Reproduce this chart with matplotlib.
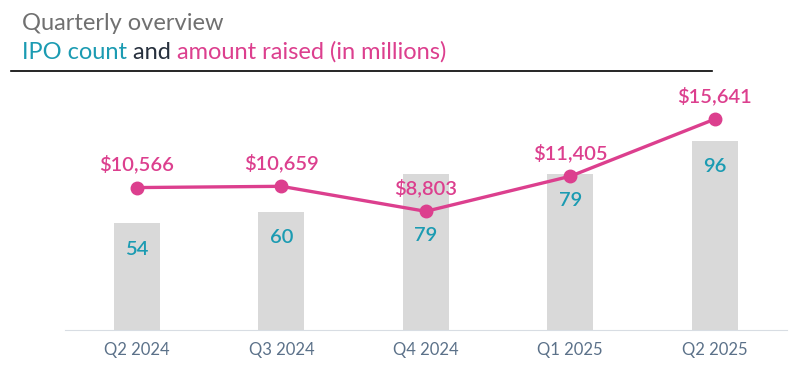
import matplotlib.pyplot as plt
from matplotlib.lines import Line2D

quarters = ["Q2 2024", "Q3 2024", "Q4 2024", "Q1 2025", "Q2 2025"]
ipo_count = [54, 60, 79, 79, 96]
amount_raised = [10566, 10659, 8803, 11405, 15641]

PINK = "#dc3f8e"
TEAL = "#1b9bb2"
GRAY = "#d9d9d9"
TICK = "#5b7189"

plt.rcParams['font.family'] = ['Lato', 'DejaVu Sans']

fig = plt.figure(figsize=(8.08, 3.78), dpi=100)
ax = fig.add_axes([0.080, 0.127, 0.894, 0.608])
x = list(range(len(quarters)))

ax.bar(x, ipo_count, width=0.32, color=GRAY, zorder=1)
ax.set_xlim(-0.5, 4.5)
ax.set_ylim(0, 116.5)

ax2 = ax.twinx()
ax2.plot(x, amount_raised, color=PINK, lw=2.4, marker="o", markersize=9, zorder=3)
ax2.set_ylim(0, 17050)
for xi, v in zip(x, amount_raised):
    ax2.annotate(f"${v:,}", (xi, v), xytext=(0, 17), textcoords="offset points",
                 ha="center", va="center", color=PINK, fontsize=14.5, fontweight="semibold")

# count labels: below the bar top, or below the line point if it sits lower
for xi, c, v in zip(x, ipo_count, amount_raised):
    bar_top = ax.transData.transform((xi, c))[1]
    pt = ax2.transData.transform((xi, v))[1]
    ref_y = min(bar_top, pt + 2)
    y_data = ax.transData.inverted().transform((0, ref_y - 26))[1]
    ax.text(xi, y_data, str(c), ha="center", va="center", color=TEAL,
            fontsize=14.5, fontweight="semibold")

for a in (ax, ax2):
    for s in a.spines.values():
        s.set_visible(False)
    a.set_yticks([])
ax.spines["bottom"].set_visible(True)
ax.spines["bottom"].set_color("#d8dde3")
ax.set_xticks(x)
ax.set_xticklabels(quarters, color=TICK, fontsize=12)
ax.tick_params(axis="x", length=0, pad=9)

# titles
fig.text(0.027, 0.921, "Quarterly overview", color="#707070", fontsize=17, va="baseline")
fig.canvas.draw()
r = fig.canvas.get_renderer()
xpos = 0.027
for txt, col in [("IPO count ", TEAL), ("and ", "#27303d"), ("amount raised (in millions)", PINK)]:
    t = fig.text(xpos, 0.845, txt, color=col, fontsize=17, va="baseline")
    bb = t.get_window_extent(renderer=r)
    xpos += bb.width / fig.bbox.width
fig.add_artist(Line2D([0.014, 0.881], [0.812, 0.812], color="black", lw=1.2))

fig.savefig("out.png", dpi=100)
